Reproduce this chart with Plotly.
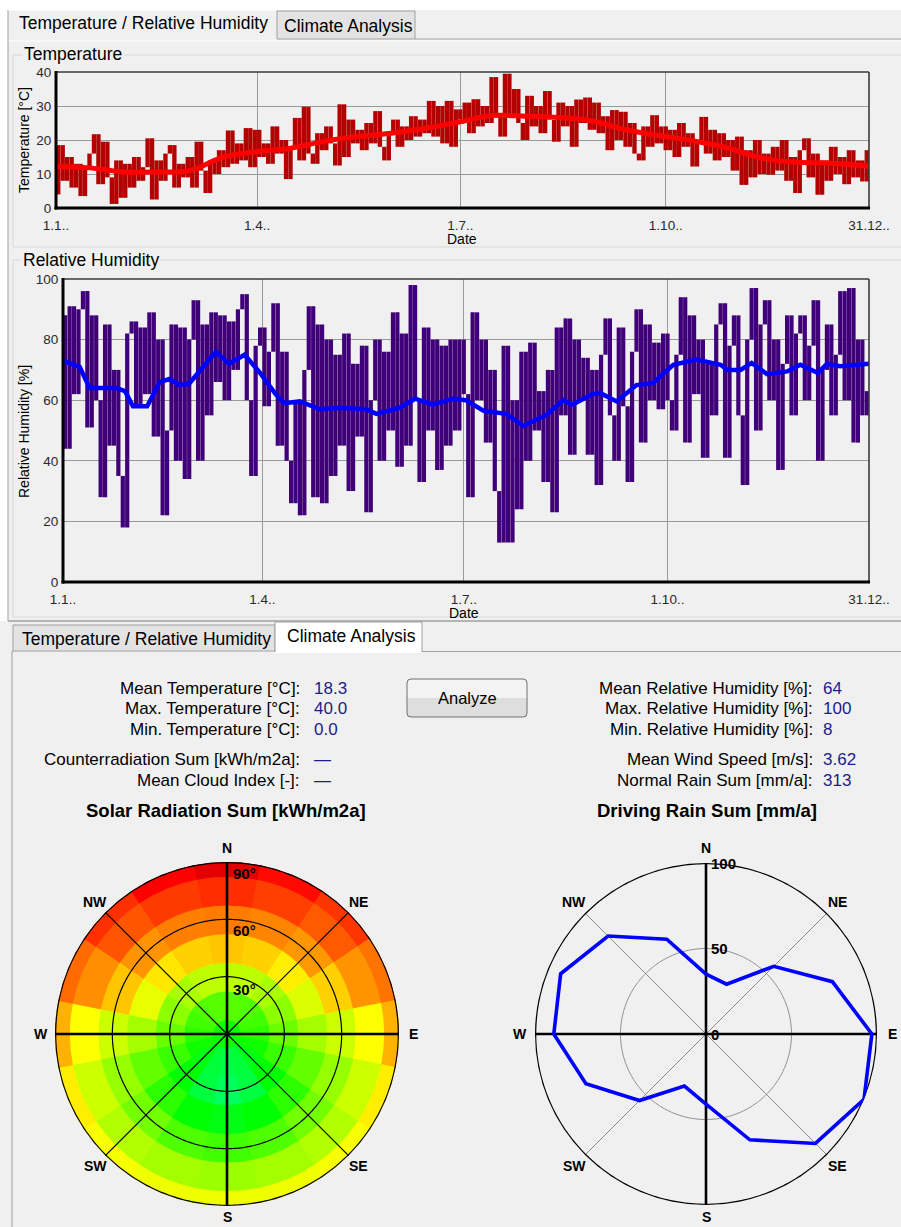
import plotly.graph_objects as go
import numpy as np

W, H = 901, 1227
def X(p): return p / W
def Y(p): return 1 - p / H

FONT = "Liberation Sans, Arial, sans-serif"

# ---------------- data ----------------
date_ticks = [0, 90, 181, 273, 364]
date_labels = ["1.1..", "1.4..", "1.7..", "1.10..", "31.12.."]
temp_ticks = [0, 10, 20, 30, 40]
rh_ticks = [0, 20, 40, 60, 80, 100]

# temperature samples, one every 2 days [°C]
temp_hourly = [
    4, 18.5, 8, 15, 6, 13, 3.5, 12, 16, 21.7, 7, 19.5, 9, 1.2, 14, 3,
    13, 6, 15, 8, 12, 20.5, 2.5, 14, 8, 16, 18.5, 6, 13, 9,
    15, 6, 19.5, 11, 4.4, 14, 10, 17, 12, 22.8, 13, 19, 14, 23.5, 12,
    23, 15, 19, 13, 24, 16, 20, 8.5, 18, 26.5, 14, 29.8, 16, 13, 22,
    17, 24, 19, 12.5, 30.5, 15, 26, 19, 23, 17, 25, 19, 28.5, 18, 14, 22,
    26, 18, 24, 20, 27, 21, 26, 22, 31.5, 21, 30, 19, 31.5, 18, 29,
    26, 31, 22, 32, 24, 30, 25, 38.5, 27, 21, 39.5, 27, 35, 25, 20,
    33, 24, 30, 22, 34.4, 26, 19.5, 31, 24, 30, 18, 31.9, 25, 32.5, 23,
    31, 22, 27, 17, 28.8, 20, 28.3, 18, 25, 16, 14, 24, 18, 27.3, 19,
    24, 17, 23, 15, 25, 18, 22, 12.2, 20, 26.8, 16, 23, 14, 22, 15,
    20, 11, 21, 6.8, 17, 9, 20, 10, 16, 9.8, 18, 11, 20, 8, 15,
    4.4, 17, 20.5, 9, 16, 3.9, 14, 8, 18, 10, 15, 7, 17, 9, 14, 7.8, 17,
]
temp_mean_days = [0, 15, 30, 45, 60, 75, 90, 105, 120, 135, 150, 165, 180,
                  195, 210, 225, 240, 255, 270, 285, 300, 315, 330, 345, 364]
temp_mean = [12.2, 11.8, 10.6, 10.6, 11.0, 15.0, 16.6, 17.6, 19.6, 21.0, 22.0, 23.4, 25.2,
             27.2, 27.0, 26.6, 25.6, 23.0, 21.3, 19.8, 17.8, 14.8, 13.5, 13.2, 12.3]

# relative humidity samples, one every 2 days [%]
rh_hourly = [
    88, 44, 91, 62, 90, 96, 51, 88, 60, 28, 85, 45, 70, 35, 18, 82,
    86, 58, 84, 62, 89, 48, 80, 22, 50, 85, 40, 84, 34, 80,
    93, 40, 85, 55, 89, 66, 88, 60, 86, 70, 90, 95, 60, 35, 78,
    84, 58, 76, 92, 45, 76, 40, 26, 60, 22, 70, 91, 28, 85, 26,
    80, 35, 75, 45, 82, 30, 72, 48, 78, 23, 60, 80, 40, 76, 50, 89,
    38, 82, 45, 98, 60, 33, 84, 50, 80, 37, 78, 45, 80, 50, 80,
    62, 28, 89, 60, 80, 46, 70, 30, 13, 78, 13, 60, 24, 76, 40,
    79, 50, 63, 33, 70, 23, 84, 55, 87, 42, 80, 60, 74, 42, 70,
    32, 75, 87, 55, 40, 84, 58, 33, 76, 90, 46, 85, 60, 79, 57,
    82, 60, 50, 75, 94, 46, 88, 62, 80, 41, 72, 55, 85, 92, 41,
    78, 88, 55, 32, 80, 97, 50, 85, 93, 60, 80, 37, 72, 88, 55,
    82, 88, 60, 78, 93, 40, 70, 85, 55, 75, 96, 60, 97, 46, 80, 55, 63,
]
rh_mean_days = [0, 7.5, 12, 24, 28, 31.6, 38, 43.7, 48, 52.7, 57, 63, 69, 75, 82, 89, 96, 100,
                107, 116, 125, 137, 141.5, 152, 159, 167, 176, 182, 190, 200, 208, 212, 218,
                226, 230, 239, 242.5, 250, 259, 266.6, 270.4, 275.6, 286, 297, 300, 306, 311,
                318, 327, 333, 341, 345, 351, 364]
rh_mean = [73, 71, 64, 64, 63, 58, 58, 66, 67, 65, 65.5, 70.5, 76, 72, 75, 69, 62, 59,
           59.6, 57, 57.5, 57, 55.5, 57.5, 60.5, 58.5, 60.5, 60, 56.5, 55.5, 51.5, 53, 55,
           60, 58.5, 62, 62.4, 59.6, 65, 65.7, 68.4, 71.7, 73.4, 71.7, 70, 70, 72.3,
           68.6, 69.5, 71.7, 69, 72, 71.2, 72]

# polar charts
compass = ["N", "NE", "E", "SE", "S", "SW", "W", "NW"]
compass_az = [0, 45, 90, 135, 180, 225, 270, 315]
sector_az = [0, 22.5, 45, 67.5, 90, 112.5, 135, 157.5,
             180, 202.5, 225, 247.5, 270, 292.5, 315, 337.5]
tilts = [0, 15, 30, 45, 60, 75, 90]
tilt_labels = ["30°", "60°", "90°"]
# solar radiation sum [kWh/m2a] per azimuth sector, for each tilt
solar_tilt0 = 1395
solar_tilt15 = [1285, 1285, 1295, 1320, 1350, 1395, 1440, 1485, 1505, 1485, 1440, 1395, 1350, 1320, 1295, 1285]
solar_tilt30 = [1130, 1130, 1155, 1200, 1255, 1330, 1420, 1495, 1530, 1495, 1420, 1330, 1255, 1200, 1155, 1130]
solar_tilt45 = [965, 980, 1020, 1090, 1165, 1265, 1350, 1420, 1440, 1420, 1350, 1265, 1165, 1075, 1010, 980]
solar_tilt60 = [815, 835, 880, 980, 1110, 1185, 1240, 1295, 1320, 1295, 1240, 1185, 1110, 965, 870, 825]
solar_tilt75 = [650, 690, 745, 870, 1045, 1110, 1145, 1165, 1175, 1165, 1145, 1110, 1045, 855, 735, 680]
solar_tilt90 = [505, 580, 670, 800, 935, 1020, 1055, 1065, 1065, 1065, 1055, 1020, 935, 780, 660, 560]
# driving rain sum [mm/a] per direction
rain_sum = [35, 31.5, 56, 80, 97, 100, 90.5, 67, 41, 33, 55, 76, 89, 92, 81, 60]
rain_ticks = [0, 50, 100]

stats_left_labels = ["Mean Temperature [°C]:", "Max. Temperature [°C]:", "Min. Temperature [°C]:",
                     "Counterradiation Sum [kWh/m2a]:", "Mean Cloud Index [-]:"]
stats_left_values = ["18.3", "40.0", "0.0", "—", "—"]
stats_right_labels = ["Mean Relative Humidity [%]:", "Max. Relative Humidity [%]:",
                      "Min. Relative Humidity [%]:", "Mean Wind Speed [m/s]:", "Normal Rain Sum [mm/a]:"]
stats_right_values = ["64", "100", "8", "3.62", "313"]

# ---------------- styles ----------------
BG = "#f0f0f0"
TEMP_NOISE = "#b40000"
TEMP_MEAN = "#ff0000"
RH_NOISE = "#3f0079"
RH_MEAN = "#0000ff"
VAL_BLUE = "#1c1c8c"
TICK = "#2a2a2a"
SOLAR_CS = [[0, "#c80000"], [0.10, "#ff0000"], [0.22, "#ff4000"], [0.34, "#ff8000"],
            [0.44, "#ffb000"], [0.54, "#ffff00"], [0.64, "#aaff00"], [0.76, "#55ff00"],
            [0.88, "#00ff00"], [1.0, "#00ff70"]]
SOLAR_MIN, SOLAR_MAX = 450, 1550

fig = go.Figure()

# ---------------- line charts ----------------
# the dense hourly band: each stroke spans two consecutive samples
def strokes(values):
    xs, base, span = [], [], []
    for i in range(len(values) - 1):
        lo, hi = min(values[i], values[i + 1]), max(values[i], values[i + 1])
        xs.append(2 * i + 1); base.append(lo); span.append(max(hi - lo, 0.4))
    return xs, base, span

tx, tb, ts = strokes(temp_hourly)
fig.add_trace(go.Bar(x=tx, base=tb, y=ts, width=1.95, marker=dict(color=TEMP_NOISE, line=dict(width=0)),
                     xaxis="x", yaxis="y", hoverinfo="skip"))
fig.add_trace(go.Scatter(x=temp_mean_days, y=temp_mean, mode="lines",
                         line=dict(color=TEMP_MEAN, width=5, shape="spline", smoothing=1.0),
                         xaxis="x", yaxis="y", hoverinfo="skip"))
hx, hb, hs = strokes(rh_hourly)
fig.add_trace(go.Bar(x=hx, base=hb, y=hs, width=1.9, marker=dict(color=RH_NOISE, line=dict(width=0)),
                     xaxis="x2", yaxis="y2", hoverinfo="skip"))
fig.add_trace(go.Scatter(x=rh_mean_days, y=rh_mean, mode="lines",
                         line=dict(color=RH_MEAN, width=4.5), xaxis="x2", yaxis="y2", hoverinfo="skip"))

# ---------------- solar radiation polar ----------------
solar_rows = [[solar_tilt0] * len(sector_az), solar_tilt15, solar_tilt30, solar_tilt45,
              solar_tilt60, solar_tilt75, solar_tilt90]
rr, bb, tt, vv = [], [], [], []
for tilt, row in zip(tilts, solar_rows):
    inner = max(0, tilt - 7.5)
    outer = min(90, tilt + 7.5)
    for az, v in zip(sector_az, row):
        rr.append(outer - inner); bb.append(inner); tt.append(az); vv.append(v)
fig.add_trace(go.Barpolar(
    r=rr, base=bb, theta=tt, width=22.5, subplot="polar", hoverinfo="skip",
    marker=dict(color=vv, colorscale=SOLAR_CS, cmin=SOLAR_MIN, cmax=SOLAR_MAX, showscale=False,
                line=dict(color=vv, colorscale=SOLAR_CS, cmin=SOLAR_MIN, cmax=SOLAR_MAX, width=1))))

circ = np.linspace(0, 360, 361)
def polar_line(sub, r, theta, color, width):
    fig.add_trace(go.Scatterpolar(r=r, theta=theta, mode="lines", subplot=sub, cliponaxis=False,
                                  line=dict(color=color, width=width), hoverinfo="skip"))

for ring in [30, 60]:
    polar_line("polar", [ring] * len(circ), circ, "#000000", 1.2)
for a in [45, 135]:
    polar_line("polar", [90, 0, 90], [a, a, a + 180], "#000000", 1.2)
for a in [0, 90]:
    polar_line("polar", [90, 0, 90], [a, a, a + 180], "#000000", 2.6)
polar_line("polar", [90] * len(circ), circ, "#000000", 2.6)

# ---------------- driving rain polar ----------------
polar_line("polar2", [50] * len(circ), circ, "#8c8c8c", 1)
for a in [45, 135]:
    polar_line("polar2", [100, 0, 100], [a, a, a + 180], "#8c8c8c", 1)
for a in [0, 90]:
    polar_line("polar2", [100, 0, 100], [a, a, a + 180], "#000000", 2.6)
polar_line("polar2", [100] * len(circ), circ, "#000000", 2.6)
fig.add_trace(go.Scatterpolar(r=rain_sum + [rain_sum[0]], theta=sector_az + [sector_az[0]],
                              mode="lines", subplot="polar2", cliponaxis=False,
                              line=dict(color="#0000ff", width=3.6), hoverinfo="skip"))

# ---------------- layout ----------------
axis_common = dict(showgrid=True, gridcolor="#9a9a9a", gridwidth=1, zeroline=False, showline=False,
                   automargin=False, tickfont=dict(size=13.5, color=TICK, family=FONT), fixedrange=True)
fig.update_layout(
    template="none", barmode="overlay",
    width=W, height=H, margin=dict(l=0, r=0, t=0, b=0, pad=0, autoexpand=False), autosize=False,
    paper_bgcolor=BG, plot_bgcolor=BG, showlegend=False,
    font=dict(family=FONT, size=13, color="#000"),
    xaxis=dict(domain=[X(56), X(869)], range=[0, 364], tickvals=date_ticks, ticktext=date_labels,
               anchor="y", ticks="outside", ticklen=5, tickcolor=BG, **axis_common),
    yaxis=dict(domain=[Y(208), Y(72)], range=[0, 40], tickvals=temp_ticks, anchor="x",
               ticks="outside", ticklen=1, tickcolor=BG, **axis_common),
    xaxis2=dict(domain=[X(63), X(869)], range=[0, 364], tickvals=date_ticks, ticktext=date_labels,
                anchor="y2", ticks="outside", ticklen=5, tickcolor=BG, **axis_common),
    yaxis2=dict(domain=[Y(582), Y(279)], range=[0, 100], tickvals=rh_ticks, anchor="x2",
                ticks="outside", ticklen=1, tickcolor=BG, **axis_common),
    polar=dict(domain=dict(x=[X(55), X(399)], y=[Y(1206), Y(862)]), bgcolor="rgba(0,0,0,0)",
               bargap=0, radialaxis=dict(range=[0, 90], visible=False),
               angularaxis=dict(direction="clockwise", rotation=90, visible=False)),
    polar2=dict(domain=dict(x=[X(535), X(877)], y=[Y(1205), Y(863)]), bgcolor="rgba(0,0,0,0)",
                radialaxis=dict(range=[0, 100], visible=False),
                angularaxis=dict(direction="clockwise", rotation=90, visible=False)),
)

# ---------------- shapes (window chrome) ----------------
shapes = []
def rect(x0, y0, x1, y1, fill, line=None, lw=1, layer="below"):
    shapes.append(dict(type="rect", xref="paper", yref="paper", x0=X(x0), x1=X(x1), y0=Y(y1), y1=Y(y0),
                       fillcolor=fill, line=dict(color=line or "rgba(0,0,0,0)", width=lw if line else 0),
                       layer=layer))
def seg(x0, y0, x1, y1, color, width=1, layer="below"):
    shapes.append(dict(type="line", xref="paper", yref="paper", x0=X(x0), x1=X(x1), y0=Y(y0), y1=Y(y1),
                       line=dict(color=color, width=width), layer=layer))

rect(0, 0, 901, 10, "#ffffff")
rect(0, 0, 8, 621, "#ffffff")
rect(277, 11, 415, 39, "#e3e3e3", "#a0a0a0")
seg(415, 39, 901, 39, "#a0a0a0")
seg(9, 41, 901, 41, "#ffffff")
seg(8, 10, 8, 621, "#a0a0a0")
seg(8, 10, 277, 10, "#ffffff")
rect(13, 55, 910, 247, "rgba(0,0,0,0)", "#d3dbe0")
rect(13, 260, 910, 617, "rgba(0,0,0,0)", "#d3dbe0")
seg(8, 621, 901, 621, "#a0a0a0", 1.5)
# bottom tab control
rect(13, 625, 275, 651, "#e3e3e3", "#a0a0a0")
rect(275, 622, 422, 653, "#ffffff")
seg(275, 622, 275, 652, "#a0a0a0")
seg(275, 622, 422, 622, "#a0a0a0")
seg(422, 622, 422, 652, "#a0a0a0")
seg(422, 651.5, 901, 651.5, "#a0a0a0")
seg(12, 651.5, 13, 651.5, "#a0a0a0")
seg(12, 651, 12, 1227, "#a0a0a0")
# Analyze button
rect(407, 679, 527, 698, "#f3f3f3")
rect(407, 698, 527, 717, "#dedede")
x0, x1, y0, y1, rc = X(407), X(527), Y(717), Y(679), 4
dx, dy = rc / W, rc / H
path = (f"M {x0+dx},{y1} L {x1-dx},{y1} Q {x1},{y1} {x1},{y1-dy} L {x1},{y0+dy} Q {x1},{y0} {x1-dx},{y0} "
        f"L {x0+dx},{y0} Q {x0},{y0} {x0},{y0+dy} L {x0},{y1-dy} Q {x0},{y1} {x0+dx},{y1} Z")
shapes.append(dict(type="path", xref="paper", yref="paper", path=path,
                   line=dict(color="#707070", width=1), fillcolor="rgba(0,0,0,0)", layer="below"))
# plot frames
for (l, t, r, b) in [(56, 72, 869, 208), (63, 279, 869, 582)]:
    seg(l, t, r, t, "#3a3a3a", 1.6, "above")
    seg(r, t, r, b, "#3a3a3a", 1.6, "above")
    seg(l, t - 1, l, b + 1.5, "#000000", 3, "above")
    seg(l - 1.5, b, r + 1, b, "#000000", 3, "above")
fig.update_layout(shapes=shapes)

# ---------------- annotations ----------------
anns = []
def ann(text, x, y, size=16, color="#000000", xa="center", ya="middle", bold=False, angle=0, bg=None):
    d = dict(text=f"<b>{text}</b>" if bold else text, x=X(x), y=Y(y), xref="paper", yref="paper",
             showarrow=False, xanchor=xa, yanchor=ya, textangle=angle,
             font=dict(size=size, color=color, family=FONT))
    if bg:
        d["bgcolor"] = bg
    anns.append(d)

UI = 17.5
ann("Temperature / Relative Humidity", 17, 23, UI, xa="left")
ann("Climate Analysis", 282, 26, UI, xa="left")
ann("Temperature", 22, 54, UI, xa="left", bg=BG)
ann("Relative Humidity", 21, 260, UI, xa="left", bg=BG)
ann("Temperature [°C]", 24, 140, 14, angle=-90)
ann("Relative Humidity [%]", 24, 432, 14, angle=-90)
ann("Date", 462, 239, 14)
ann("Date", 464, 613, 14)
ann("Temperature / Relative Humidity", 20, 639, UI, xa="left")
ann("Climate Analysis", 285, 636, UI, xa="left")
ann("Analyze", 467, 698, 16.5)

rows_y = [688, 708, 729, 759, 780]
for y, lab, val in zip(rows_y, stats_left_labels, stats_left_values):
    ann(lab, 302, y, 17, xa="right")
    ann(val, 312, y, 17, color=VAL_BLUE, xa="left")
for y, lab, val in zip(rows_y, stats_right_labels, stats_right_values):
    ann(lab, 815, y, 17, xa="right")
    ann(val, 821, y, 17, color=VAL_BLUE, xa="left")
ann("Solar Radiation Sum [kWh/m2a]", 226, 810, 18.5, bold=True)
ann("Driving Rain Sum [mm/a]", 707, 810, 18.5, bold=True)

# compass labels around both polar charts
for cx in [227, 706]:
    for lab, az in zip(compass, compass_az):
        d = 186 if az != 180 else 183
        ann(lab, cx + d * np.sin(np.radians(az)), 1034 - d * np.cos(np.radians(az)), 14, bold=True)
# tilt ring labels (solar) and value ring labels (rain)
for lab, yy in zip(tilt_labels, [989, 930, 873]):
    ann(lab, 231, yy, 15, xa="left", bold=True)
for val, yy in zip(rain_ticks, [1034, 948, 863]):
    ann(str(val), 709, yy, 15, xa="left", bold=True)
fig.update_layout(annotations=anns)

fig.write_html("out.html", config={"displayModeBar": False},
               post_script="document.body.style.margin='0';document.body.style.overflow='hidden';")
